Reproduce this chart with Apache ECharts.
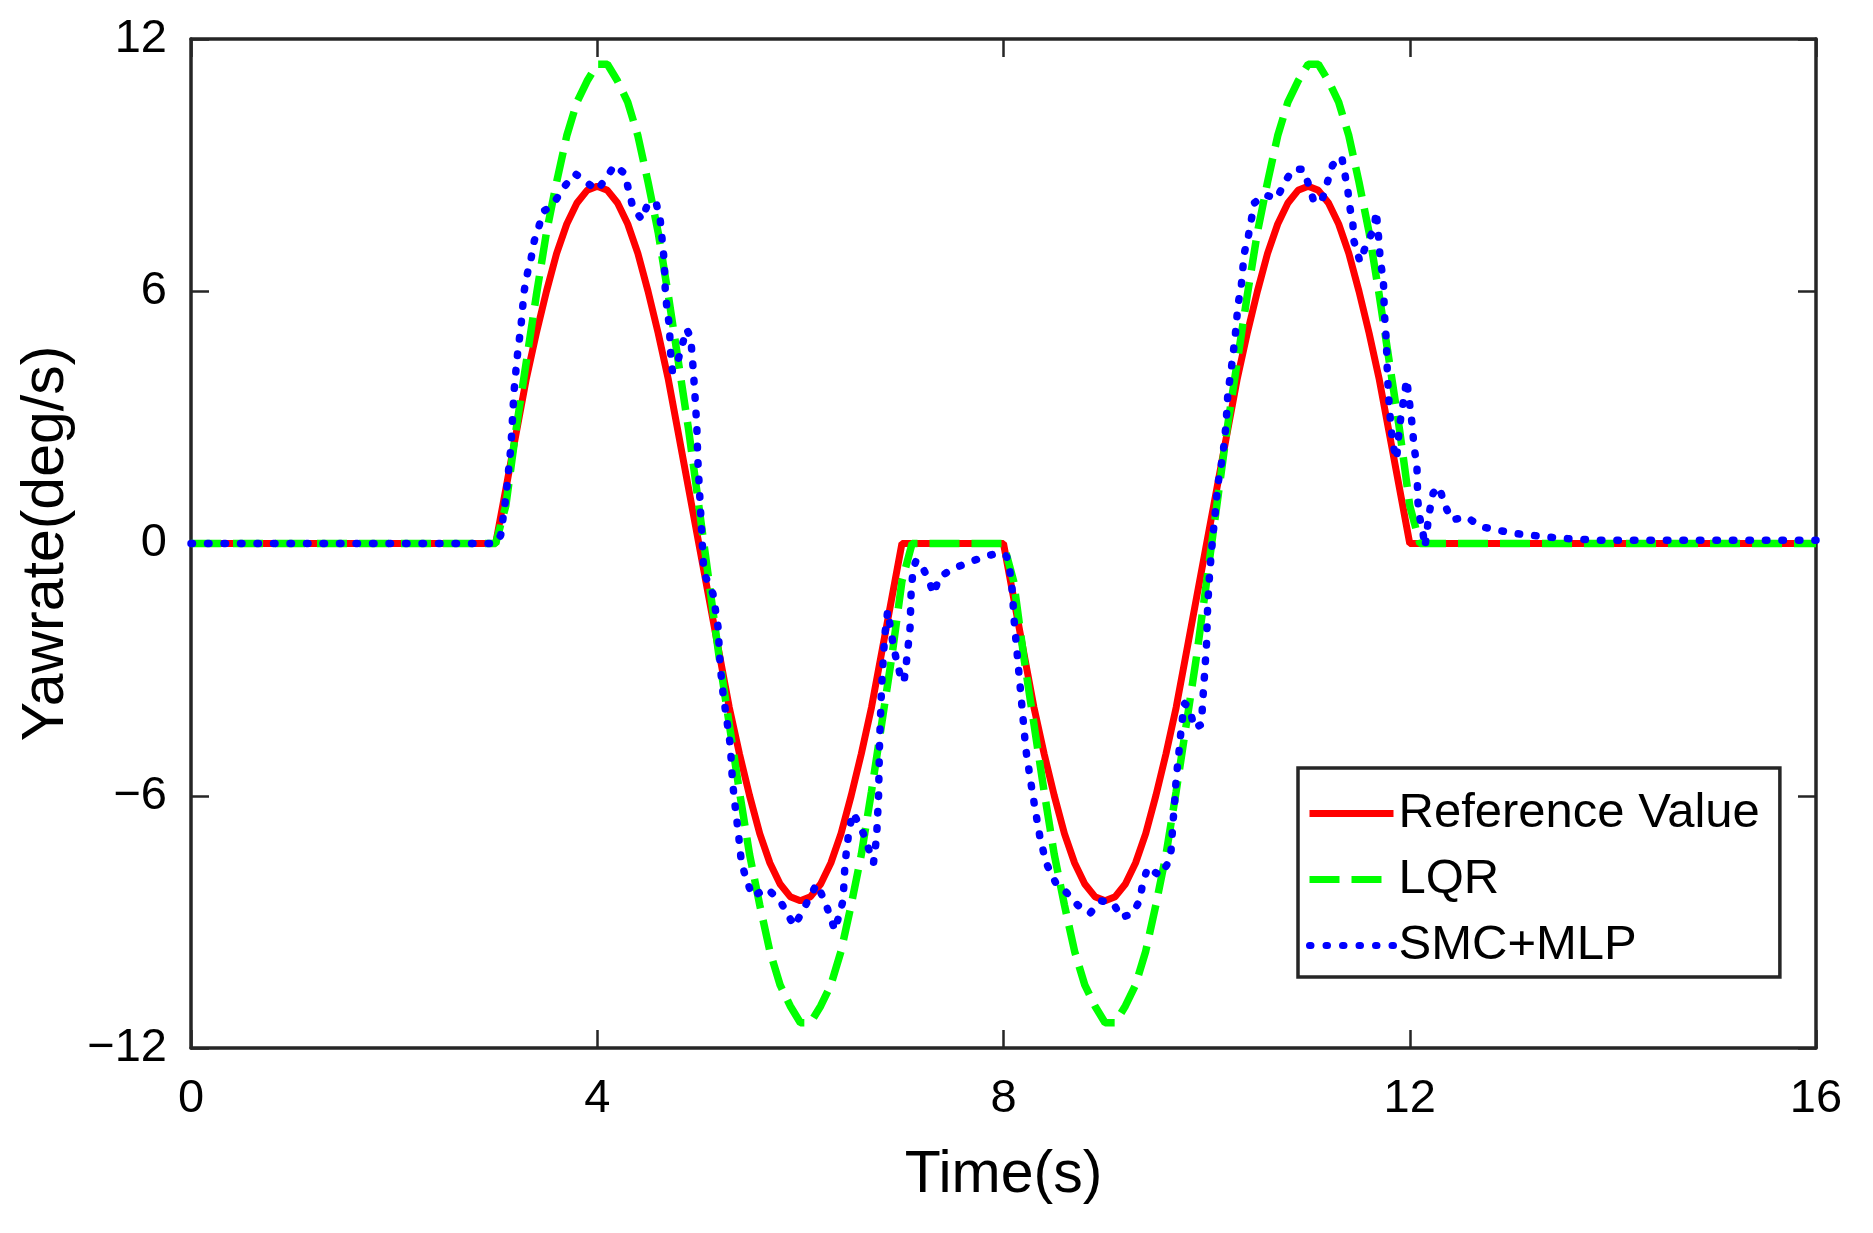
<!DOCTYPE html>
<html>
<head>
<meta charset="utf-8">
<title>Yawrate</title>
<script src="https://cdn.jsdelivr.net/npm/echarts@6/dist/echarts.min.js"></script>
<style>
  html, body { margin: 0; padding: 0; background: #fff; }
  #main { width: 1873px; height: 1233px; }
</style>
</head>
<body>
<div id="main"></div>
<script>
// time grid shared by the reference and LQR curves (s)
var time = [
    0,
    3.0, 3.1, 3.2, 3.3, 3.4, 3.5, 3.6, 3.7, 3.8, 3.9,
    4.0, 4.1, 4.2, 4.3, 4.4, 4.5, 4.6, 4.7, 4.8, 4.9,
    5.0, 5.1, 5.2, 5.3, 5.4, 5.5, 5.6, 5.7, 5.8, 5.9,
    6.0, 6.1, 6.2, 6.3, 6.4, 6.5, 6.6, 6.7, 6.8, 6.9,
    7.0, 7.1,
    8.0, 8.1, 8.2, 8.3, 8.4, 8.5, 8.6, 8.7, 8.8, 8.9,
    9.0, 9.1, 9.2, 9.3, 9.4, 9.5, 9.6, 9.7, 9.8, 9.9,
    10.0, 10.1, 10.2, 10.3, 10.4, 10.5, 10.6, 10.7, 10.8, 10.9,
    11.0, 11.1, 11.2, 11.3, 11.4, 11.5, 11.6, 11.7, 11.8, 11.9,
    12.0, 12.1,
    16
];

// Reference Value (deg/s)
var refValue = [
    0,
    0, 1.3, 2.6, 3.9, 5.0, 6.0, 6.9, 7.6, 8.1, 8.4,
    8.5, 8.4, 8.1, 7.6, 6.9, 6.0, 5.0, 3.9, 2.6, 1.3,
    0, -1.3, -2.6, -3.9, -5.0, -6.0, -6.9, -7.6, -8.1, -8.4,
    -8.5, -8.4, -8.1, -7.6, -6.9, -6.0, -5.0, -3.9, -2.6, -1.3,
    0, 0,
    0, -1.3, -2.6, -3.9, -5.0, -6.0, -6.9, -7.6, -8.1, -8.4,
    -8.5, -8.4, -8.1, -7.6, -6.9, -6.0, -5.0, -3.9, -2.6, -1.3,
    0, 1.3, 2.6, 3.9, 5.0, 6.0, 6.9, 7.6, 8.1, 8.4,
    8.5, 8.4, 8.1, 7.6, 6.9, 6.0, 5.0, 3.9, 2.6, 1.3,
    0, 0,
    0
];

// LQR (deg/s)
var lqrValue = [
    0,
    0, 0.9, 2.7, 4.3, 5.9, 7.4, 8.6, 9.7, 10.5, 11.0,
    11.4, 11.4, 11.0, 10.5, 9.7, 8.6, 7.4, 5.9, 4.3, 2.7,
    0.9, -0.9, -2.7, -4.3, -5.9, -7.4, -8.6, -9.7, -10.5, -11.0,
    -11.4, -11.4, -11.0, -10.5, -9.7, -8.6, -7.4, -5.9, -4.3, -2.7,
    -0.9, 0,
    0, -0.9, -2.7, -4.3, -5.9, -7.4, -8.6, -9.7, -10.5, -11.0,
    -11.4, -11.4, -11.0, -10.5, -9.7, -8.6, -7.4, -5.9, -4.3, -2.7,
    -0.9, 0.9, 2.7, 4.3, 5.9, 7.4, 8.6, 9.7, 10.5, 11.0,
    11.4, 11.4, 11.0, 10.5, 9.7, 8.6, 7.4, 5.9, 4.3, 2.7,
    0.9, 0,
    0
];

// SMC+MLP, read point by point
var smcTime = [
    0, 3.0, 3.05, 3.1, 3.15, 3.18, 3.21, 3.25, 3.28, 3.31, 3.35, 3.38, 3.42, 3.47, 3.53, 3.6, 3.68, 3.78, 3.89,
    4.0, 4.09, 4.17, 4.27, 4.35, 4.44, 4.5, 4.58, 4.62, 4.64, 4.66, 4.67, 4.69, 4.71, 4.72, 4.74, 4.8, 4.88,
    4.92, 4.94, 4.96, 4.98, 4.99, 5.01, 5.03, 5.05, 5.14, 5.19, 5.21, 5.24, 5.27, 5.31, 5.33, 5.35, 5.39,
    5.42, 5.47, 5.53, 5.6, 5.67, 5.8, 5.94, 6.03, 6.16, 6.24, 6.34, 6.42, 6.44, 6.48, 6.52, 6.62, 6.72,
    6.75, 6.77, 6.78, 6.8, 6.83, 6.86, 6.92, 6.98, 7.02, 7.05, 7.08, 7.09, 7.11, 7.14, 7.19, 7.27, 7.31,
    7.37, 7.5, 7.65, 7.8, 7.96, 8.03, 8.06, 8.09, 8.1, 8.13, 8.16, 8.19, 8.22, 8.27, 8.31, 8.36, 8.42,
    8.52, 8.62, 8.73, 8.85, 8.96, 9.08, 9.16, 9.27, 9.34, 9.37, 9.42, 9.54, 9.62, 9.65, 9.67, 9.69, 9.7,
    9.73, 9.75, 9.78, 9.83, 9.88, 9.95, 9.96, 9.98, 10.0, 10.01, 10.03, 10.06, 10.08, 10.11, 10.16, 10.19,
    10.21, 10.24, 10.28, 10.31, 10.34, 10.37, 10.41, 10.44, 10.47, 10.57, 10.69, 10.77, 10.85, 10.95,
    11.01, 11.06, 11.14, 11.19, 11.24, 11.33, 11.36, 11.39, 11.41, 11.44, 11.45, 11.51, 11.57, 11.65,
    11.67, 11.7, 11.71, 11.74, 11.75, 11.77, 11.78, 11.8, 11.83, 11.87, 11.9, 11.97, 12.03, 12.04, 12.07,
    12.075, 12.08, 12.1, 12.13, 12.15, 12.19, 12.23, 12.29, 12.34, 12.41, 12.56, 12.7, 12.86, 13.03,
    13.18, 13.34, 13.52, 13.68, 13.84, 16
];
var smcValue = [
    0, 0, 0.2, 1.1, 2.3, 3.6, 4.4, 5.2, 6.0, 6.4, 6.8, 7.2, 7.5, 7.9, 8.0, 8.2, 8.5, 8.8, 8.6,
    8.4, 8.7, 9.0, 8.8, 8.0, 7.7, 8.1, 8.1, 7.7, 7.2, 6.7, 6.0, 5.5, 5.2, 4.6, 4.1, 4.4, 5.1,
    4.9, 4.3, 3.6, 2.8, 2.0, 1.1, 0.2, -0.7, -1.2, -2.0, -2.9, -3.6, -4.1, -4.8, -5.6, -6.1, -6.9,
    -7.6, -8.0, -8.4, -8.3, -8.2, -8.5, -9.1, -8.7, -8.1, -8.5, -9.2, -8.5, -7.6, -6.8, -6.4, -6.9, -7.6,
    -7.0, -6.0, -4.7, -3.4, -2.2, -1.6, -2.5, -3.1, -3.3, -2.7, -2.0, -1.2, -0.6, -0.4, -0.5, -0.9, -1.2,
    -0.8, -0.6, -0.46, -0.32, -0.22, -0.3, -0.6, -1.2, -1.7, -2.5, -3.3, -4.1, -4.9, -5.7, -6.3, -7.0, -7.6,
    -8.1, -8.3, -8.6, -8.8, -8.5, -8.55, -8.9, -8.8, -8.5, -8.1, -7.7, -7.9, -7.6, -7.3, -6.6, -6.0, -5.6,
    -4.9, -4.4, -3.8, -3.9, -4.4, -4.3, -3.8, -3.1, -2.35, -1.5, -0.7, 0.15, 0.6, 1.4, 2.1, 2.8,
    3.6, 4.1, 4.9, 5.7, 6.1, 6.9, 7.3, 7.7, 8.1, 8.3, 8.2, 8.6, 8.9, 8.9,
    8.5, 8.1, 8.2, 8.6, 9.0, 9.2, 8.8, 8.4, 8.0, 7.6, 7.2, 6.7, 7.1, 7.5,
    7.9, 7.1, 6.7, 6.3, 5.5, 4.8, 4.0, 3.2, 2.4, 2.0, 2.8, 3.9, 2.7, 2.3, 1.9,
    1.4, 1.0, 0.6, 0.25, -0.08, 0.7, 1.2, 1.35, 0.95, 0.56, 0.63, 0.4, 0.32, 0.24,
    0.2, 0.16, 0.12, 0.1, 0.08, 0.08
];

var xTicks = [0, 16, 4];    // min, max, step
var yTicks = [-12, 12, 6];

function pairs(xs, ys) {
    var out = [];
    for (var i = 0; i < xs.length; i++) {
        out.push([xs[i], ys[i]]);
    }
    return out;
}

function minusLabel(v) {
    return v < 0 ? "\u2212" + Math.abs(v) : String(v);
}

var font = "Liberation Sans, Arial, Helvetica, sans-serif";
var frameColor = "#262626";

function frameAxis(extra) {
    var axis = {
        type: "value",
        axisLine: { show: true, onZero: false, lineStyle: { color: frameColor, width: 3.5 } },
        axisTick: { show: true, inside: true, length: 18, lineStyle: { color: frameColor, width: 2.5 } },
        axisLabel: { show: false },
        splitLine: { show: false },
    };
    for (var k in extra) axis[k] = extra[k];
    return axis;
}

var myChart = echarts.init(document.getElementById("main"));

var option = {
    animation: false,
    backgroundColor: "#ffffff",
    grid: { left: 191, right: 57, top: 39, bottom: 185 },
    xAxis: [
        frameAxis({
            position: "bottom",
            min: xTicks[0], max: xTicks[1], interval: xTicks[2],
            name: "Time(s)",
            nameLocation: "middle",
            nameGap: 98,
            nameTextStyle: { fontSize: 59, color: "#000", fontFamily: font },
            axisLabel: { show: true, fontSize: 47, color: "#000", fontFamily: font, margin: 28 },
        }),
        frameAxis({ position: "top", min: xTicks[0], max: xTicks[1], interval: xTicks[2] }),
    ],
    yAxis: [
        frameAxis({
            position: "left",
            min: yTicks[0], max: yTicks[1], interval: yTicks[2],
            name: "Yawrate(deg/s)",
            nameLocation: "middle",
            nameRotate: 90,
            nameGap: 106,
            nameTextStyle: { fontSize: 59, color: "#000", fontFamily: font },
            axisLabel: { show: true, fontSize: 47, color: "#000", fontFamily: font, margin: 24, formatter: minusLabel },
        }),
        frameAxis({ position: "right", min: yTicks[0], max: yTicks[1], interval: yTicks[2] }),
    ],
    legend: {
        orient: "vertical",
        left: 1298,
        top: 768,
        padding: [21, 20, 7, 8],
        itemGap: 17,
        itemWidth: 84,
        itemHeight: 14,
        backgroundColor: "#ffffff",
        borderColor: frameColor,
        borderWidth: 3.5,
        borderRadius: 0,
        itemStyle: { opacity: 0 },
        lineStyle: { width: 7 },
        textStyle: { fontSize: 49, color: "#000", fontFamily: font },
        data: ["Reference Value", "LQR", "SMC+MLP"],
    },
    series: [
        {
            name: "Reference Value",
            type: "line",
            data: pairs(time, refValue),
            showSymbol: false,
            symbol: "none",
            symbolSize: 0,
            color: "#ff0000",
            lineStyle: { color: "#ff0000", width: 7 },
            z: 2,
        },
        {
            name: "LQR",
            type: "line",
            data: pairs(time, lqrValue),
            showSymbol: false,
            symbol: "none",
            symbolSize: 0,
            color: "#00ff00",
            lineStyle: { color: "#00ff00", width: 7.5, type: [30, 12] },
            z: 3,
        },
        {
            name: "SMC+MLP",
            type: "line",
            data: pairs(smcTime, smcValue),
            showSymbol: false,
            symbol: "none",
            symbolSize: 0,
            color: "#0000ff",
            lineStyle: { color: "#0000ff", width: 7.5, type: [1.5, 15], cap: "round" },
            z: 4,
        },
    ],
};

myChart.setOption(option);
</script>
</body>
</html>
